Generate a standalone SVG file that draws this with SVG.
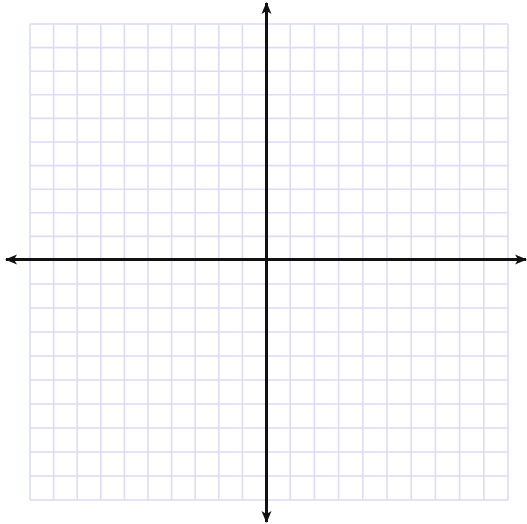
<svg xmlns="http://www.w3.org/2000/svg" width="527" height="524" viewBox="0 0 527 524">
<defs>
<style>
.g{stroke:#dcdcf7;stroke-width:1.6;fill:none}
.ax{stroke:#111;stroke-width:3;fill:none}
</style>
<marker id="ah" viewBox="0 0 12 10" refX="11" refY="5" markerWidth="4" markerHeight="3.4" markerUnits="strokeWidth" orient="auto">
<path d="M0,0 L12,5 L0,10 L3,5 z" fill="#111"/>
</marker>
</defs>
<rect width="527" height="524" fill="#fff"/>
<g id="grid" class="g">
<path d="M30,24V500M53.6,24V500M77.2,24V500M100.8,24V500M124.4,24V500M148,24V500M171.6,24V500M195.2,24V500M218.8,24V500M242.4,24V500M266,24V500M290.2,24V500M314.4,24V500M338.6,24V500M362.8,24V500M387,24V500M411.2,24V500M435.4,24V500M459.6,24V500M483.8,24V500M508,24V500"/>
<path d="M30,24H508M30,47.6H508M30,71.2H508M30,94.8H508M30,118.4H508M30,142H508M30,165.6H508M30,189.2H508M30,212.8H508M30,236.4H508M30,260H508M30,284H508M30,308H508M30,332H508M30,356H508M30,380H508M30,404H508M30,428H508M30,452H508M30,476H508M30,500H508"/>
</g>
<g id="axes">
<line class="ax" x1="266.5" y1="260" x2="266.5" y2="3" marker-end="url(#ah)"/>
<line class="ax" x1="266.5" y1="260" x2="266.5" y2="522" marker-end="url(#ah)"/>
<line class="ax" x1="266.5" y1="259.5" x2="6" y2="259.5" marker-end="url(#ah)"/>
<line class="ax" x1="266.5" y1="259.5" x2="526" y2="259.5" marker-end="url(#ah)"/>
</g>
</svg>
